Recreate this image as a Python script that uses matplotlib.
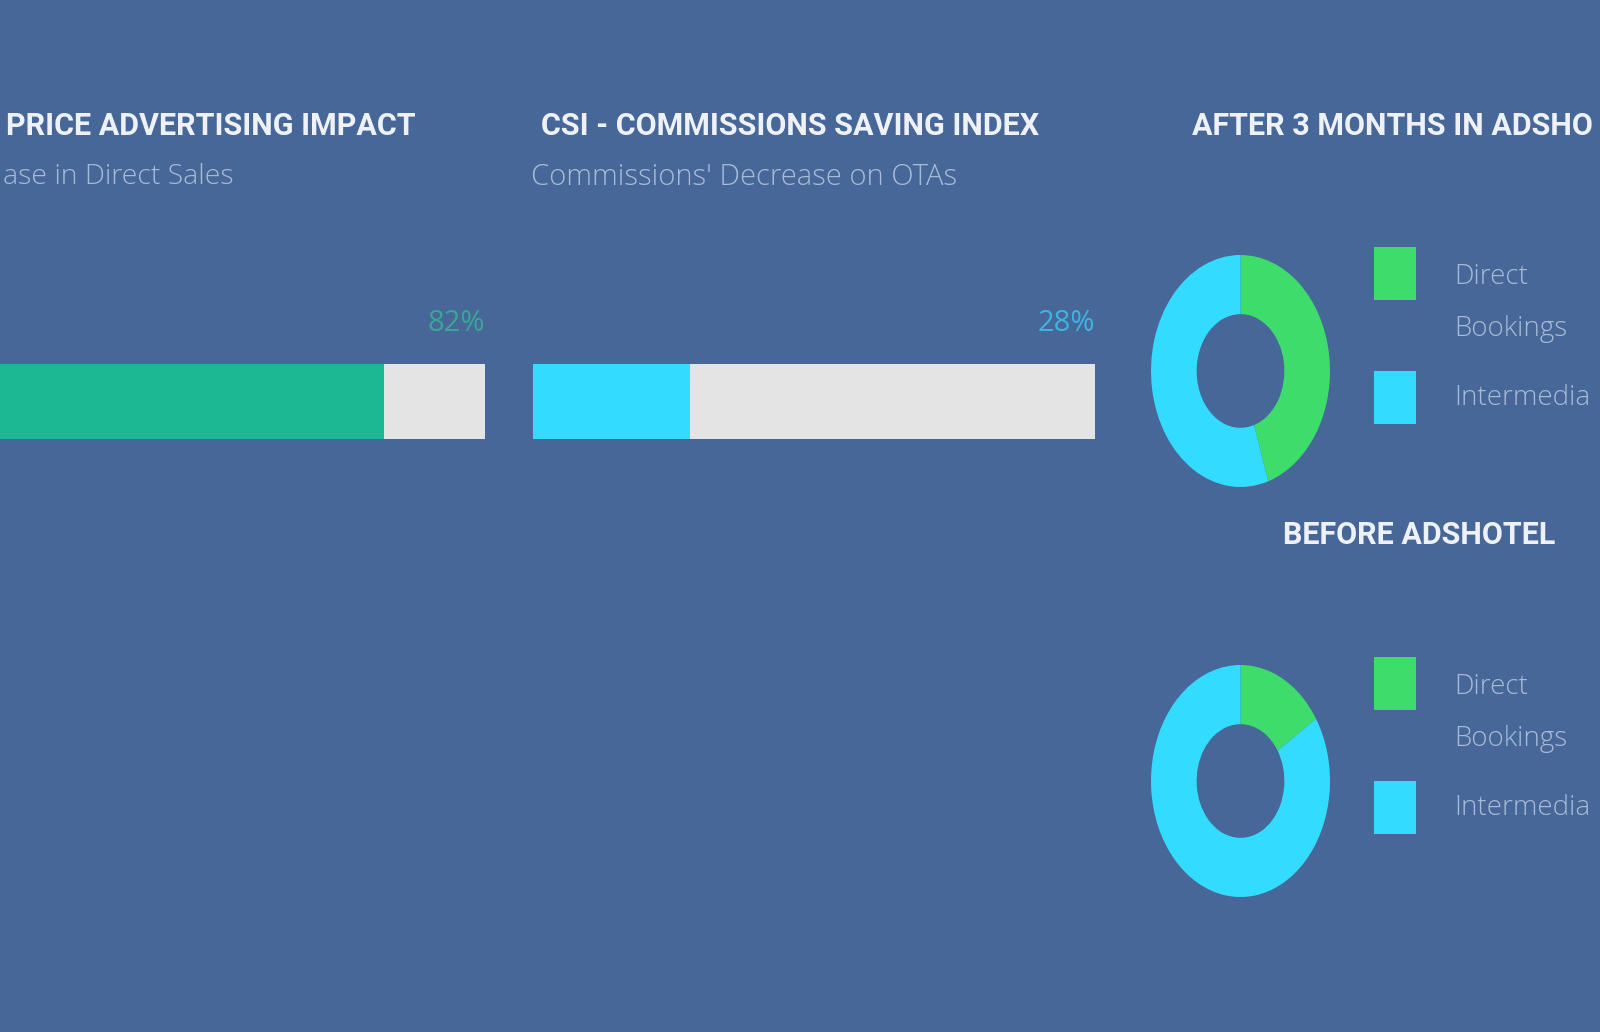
import matplotlib.pyplot as plt
from matplotlib.patches import Rectangle

# data (texts as far as they are visible in the crop)
bar_titles = ["PRICE ADVERTISING IMPACT", "CSI - COMMISSIONS SAVING INDEX"]
bar_subtitles = ["ase in Direct Sales", "Commissions' Decrease on OTAs"]
bar_values = [82, 28]
donut_titles = ["AFTER 3 MONTHS IN ADSHO", "BEFORE ADSHOTEL"]
donut_labels = ["Direct\nBookings", "Intermedia"]
donut_after = [45, 55]
donut_before = [16, 84]

BG = "#466797"
TRACK = "#e4e4e4"
BAR_COLORS = ["#1cb894", "#33dcff"]
LABEL_COLORS = ["#3aa795", "#3fb4e0"]
DONUT_COLORS = ["#3ddc6b", "#33dcff"]
TITLE_C = "#eef2f8"
SUB_C = "#a8bbd6"

W, H = 1600, 1032
fig = plt.figure(figsize=(W / 100, H / 100), dpi=100, facecolor=BG)


def fx(x):
    return x / W


def fy(y):
    return 1 - y / H


title_font = dict(family="Roboto", weight="bold", fontsize=22, color=TITLE_C)
sub_font = dict(family="Open Sans", weight="light", fontsize=21, color=SUB_C)

# bar panels: left edge, right edge (pixels); the first one runs off the left edge
bar_x = [(-77, 485), (533, 1095)]
for i in range(2):
    x0, x1 = bar_x[i]
    ax = fig.add_axes([fx(x0), fy(439), (x1 - x0) / W, 75 / H])
    ax.barh(0, 100, height=1, color=TRACK)
    ax.barh(0, bar_values[i], height=1, color=BAR_COLORS[i])
    ax.set_xlim(0, 100)
    ax.set_ylim(-0.5, 0.5)
    ax.axis("off")
    ax.annotate(f"{bar_values[i]}%", xy=(100, 0.5), xytext=(0, 29),
                textcoords="offset points", ha="right", va="center",
                family="Open Sans", fontsize=21, color=LABEL_COLORS[i])

# titles
fig.text(fx(6), fy(126), bar_titles[0], ha="left", va="center", **title_font)
fig.text(fx(3), fy(177), bar_subtitles[0], ha="left", va="center",
         **{**sub_font, "fontsize": 20.5})
fig.text(fx(541), fy(126), bar_titles[1], ha="left", va="center", **title_font)
fig.text(fx(531), fy(177), bar_subtitles[1], ha="left", va="center", **sub_font)

fig.text(fx(1192), fy(126), donut_titles[0], ha="left", va="center", **title_font)
fig.text(fx(1283), fy(535), donut_titles[1], ha="left", va="center", **title_font)

# donuts with their legends
donut_vals = [donut_after, donut_before]
donut_top = [255, 665]
for i in range(2):
    top = donut_top[i]
    ax = fig.add_axes([fx(1151), fy(top + 232), 179 / W, 232 / H])
    ax.pie(donut_vals[i], colors=DONUT_COLORS, startangle=90, counterclock=False,
           wedgeprops=dict(width=0.51, linewidth=0))
    ax.set_aspect("auto")
    ax.set_xlim(-1, 1)
    ax.set_ylim(-1, 1)
    ax.axis("off")

    sq_tops = [top - 8, top + 116]
    txt_y = [top + 48, top + 143]
    for j in range(2):
        fig.add_artist(Rectangle((fx(1374), fy(sq_tops[j] + 53)), 42 / W, 53 / H,
                                 transform=fig.transFigure, color=DONUT_COLORS[j],
                                 linewidth=0))
        fig.text(fx(1454), fy(txt_y[j]), donut_labels[j], ha="left", va="center",
                 family="Open Sans", weight="light", fontsize=20, color=SUB_C,
                 linespacing=2.1)

fig.savefig("out.png", dpi=100, facecolor=BG)
